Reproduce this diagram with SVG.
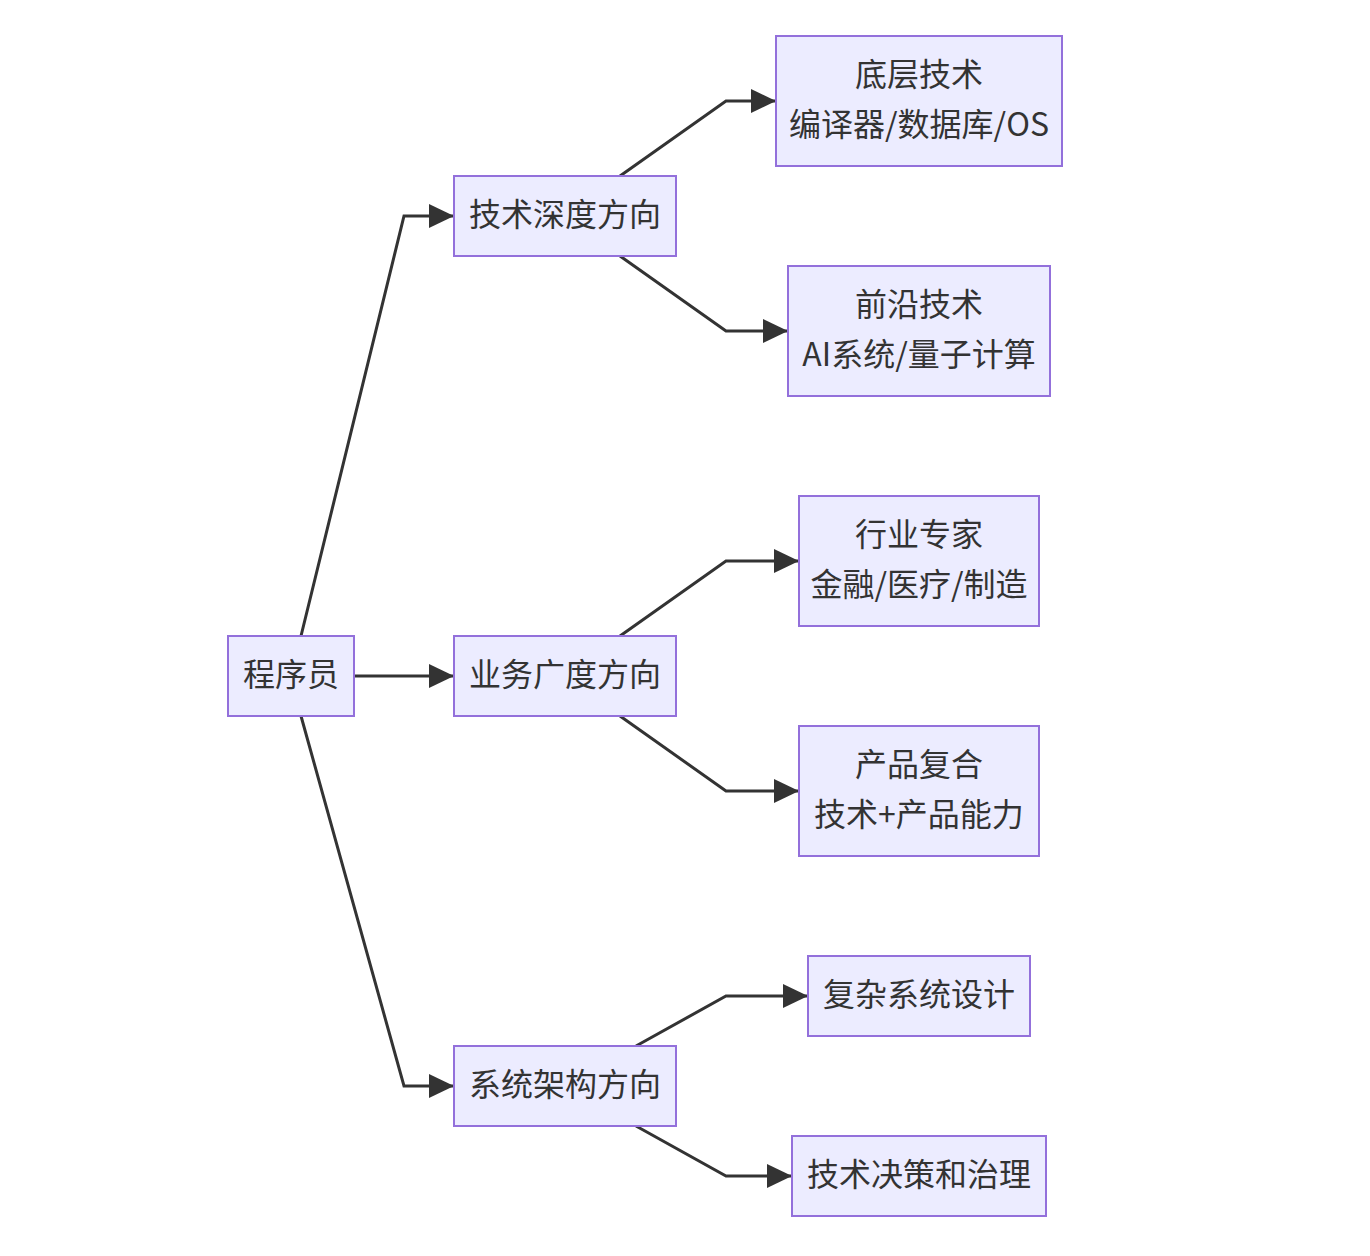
<svg xmlns="http://www.w3.org/2000/svg" width="1370" height="1256" viewBox="0 0 1370 1256">
<style>
.node rect{fill:#ECECFF;stroke:#9370DB;stroke-width:2}
.node text{font-family:"Noto Sans CJK SC","Liberation Sans",sans-serif;font-size:32px;fill:#333333;text-anchor:middle;dominant-baseline:central}
.edges path{fill:none;stroke:#333333;stroke-width:3}
</style>
<defs>
<marker id="arrow" markerUnits="userSpaceOnUse" markerWidth="26" markerHeight="24" refX="25" refY="12" orient="auto">
<path d="M0,0 L25,12 L0,24 z" fill="#333333"/>
</marker>
</defs>
<rect width="1370" height="1256" fill="#ffffff"/>
<g class="edges">
<path d="M301,636 L404,216 L454,216" marker-end="url(#arrow)"/>
<path d="M354,676 L454,676" marker-end="url(#arrow)"/>
<path d="M301,716 L404,1086 L454,1086" marker-end="url(#arrow)"/>
<path d="M620,176 L726,101 L776,101" marker-end="url(#arrow)"/>
<path d="M620,256 L726,331 L788,331" marker-end="url(#arrow)"/>
<path d="M620,636 L726,561 L799,561" marker-end="url(#arrow)"/>
<path d="M620,716 L726,791 L799,791" marker-end="url(#arrow)"/>
<path d="M636,1046 L726,996 L808,996" marker-end="url(#arrow)"/>
<path d="M636,1126 L726,1176 L792,1176" marker-end="url(#arrow)"/>
</g>
<g id="programmer" class="node"><rect x="228" y="636" width="126" height="80"/><text x="291" y="672">程序员</text></g>
<g id="tech-depth" class="node"><rect x="454" y="176" width="222" height="80"/><text x="565" y="212">技术深度方向</text></g>
<g id="biz-breadth" class="node"><rect x="454" y="636" width="222" height="80"/><text x="565" y="672">业务广度方向</text></g>
<g id="sys-arch" class="node"><rect x="454" y="1046" width="222" height="80"/><text x="565" y="1082">系统架构方向</text></g>
<g id="low-level" class="node"><rect x="776" y="36" width="286" height="130"/><text x="919" y="72">底层技术</text><text x="919" y="122">编译器/数据库/OS</text></g>
<g id="frontier" class="node"><rect x="788" y="266" width="262" height="130"/><text x="919" y="302">前沿技术</text><text x="919" y="352">AI系统/量子计算</text></g>
<g id="industry" class="node"><rect x="799" y="496" width="240" height="130"/><text x="919" y="532">行业专家</text><text x="919" y="582">金融/医疗/制造</text></g>
<g id="product" class="node"><rect x="799" y="726" width="240" height="130"/><text x="919" y="762">产品复合</text><text x="919" y="812">技术+产品能力</text></g>
<g id="complex-sys" class="node"><rect x="808" y="956" width="222" height="80"/><text x="919" y="992">复杂系统设计</text></g>
<g id="governance" class="node"><rect x="792" y="1136" width="254" height="80"/><text x="919" y="1172">技术决策和治理</text></g>
</svg>
